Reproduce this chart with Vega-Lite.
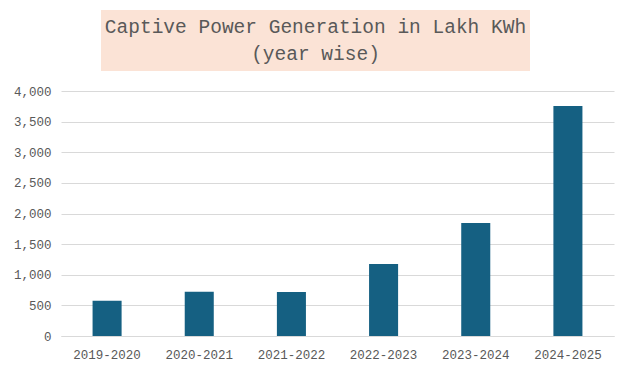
{
  "$schema": "https://vega.github.io/schema/vega-lite/v6.json",
  "background": "white",
  "padding": {"left": 13, "top": 10, "right": 20, "bottom": 5},
  "autosize": {"type": "pad"},
  "spacing": 14,
  "config": {"view": {"stroke": null}},
  "vconcat": [
    {
      "hconcat": [
        {
          "width": 40,
          "height": 61,
          "data": {"values": [{"t": ""}]},
          "mark": {"type": "text"},
          "encoding": {"text": {"field": "t", "type": "nominal"}}
        },
        {
          "width": 429,
          "height": 61,
          "view": {"fill": "#FBE3D6", "stroke": null},
          "data": {"values": [{"t": "Captive Power Generation in Lakh KWh|(year wise)"}]},
          "mark": {"type": "text", "font": "Liberation Mono", "fontSize": 19.5, "color": "#595959", "lineHeight": 27, "align": "center", "baseline": "middle", "dy": -13.5, "lineBreak": "|"},
          "encoding": {"text": {"field": "t", "type": "nominal"}}
        }
      ],
      "spacing": 0
    },
    {
      "width": 553,
      "height": 245,
      "data": {"values": [
        {"year": "2019-2020", "value": 576},
        {"year": "2020-2021", "value": 722},
        {"year": "2021-2022", "value": 720},
        {"year": "2022-2023", "value": 1175},
        {"year": "2023-2024", "value": 1845},
        {"year": "2024-2025", "value": 3755}
      ]},
      "mark": {"type": "bar", "color": "#156082"},
      "encoding": {
        "x": {"field": "year", "type": "nominal", "sort": null,
          "scale": {"paddingInner": 0.685, "paddingOuter": 0.3425},
          "axis": {"title": null, "labelAngle": 0, "ticks": false, "domainColor": "#d9d9d9", "labelFont": "Liberation Mono", "labelFontSize": 12.5, "labelColor": "#595959", "labelPadding": 12}},
        "y": {"field": "value", "type": "quantitative",
          "scale": {"domain": [0, 4000], "nice": false},
          "axis": {"title": null, "values": [0, 500, 1000, 1500, 2000, 2500, 3000, 3500, 4000], "domain": false, "ticks": false, "gridColor": "#d9d9d9", "format": ",d", "labelFont": "Liberation Mono", "labelFontSize": 12.5, "labelColor": "#595959", "labelPadding": 10}}
      }
    }
  ]
}
